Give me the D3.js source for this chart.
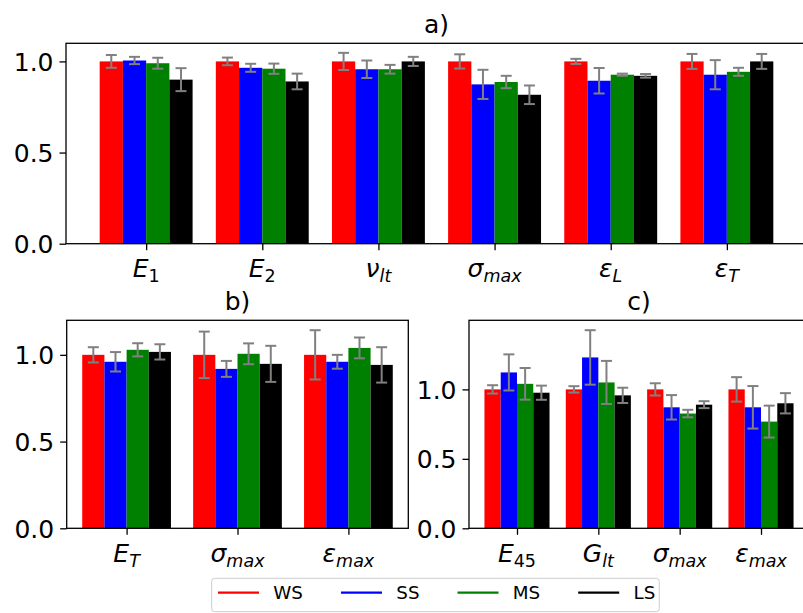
<!DOCTYPE html>
<html><head><meta charset="utf-8">
<script src="https://cdn.jsdelivr.net/npm/d3@7"></script>
<style>
html,body{margin:0;padding:0;background:#fff;overflow:hidden}
text{font-family:"DejaVu Sans",sans-serif;fill:#000}
</style></head>
<body>
<svg id="chart" width="803" height="613"></svg>
<script>
// ---------- data ----------
const series = ["WS", "SS", "MS", "LS"];

const categoriesA = ["E_1", "E_2", "ν_lt", "σ_max", "ε_L", "ε_T"];
const valuesA_WS = [1.0, 1.0, 1.0, 1.0, 1.0, 1.0];
const valuesA_SS = [1.005, 0.965, 0.957, 0.874, 0.894, 0.927];
const valuesA_MS = [0.99, 0.96, 0.957, 0.887, 0.927, 0.943];
const valuesA_LS = [0.90, 0.89, 1.0, 0.817, 0.921, 1.0];
const errorsA_WS = [0.035, 0.021, 0.047, 0.039, 0.014, 0.041];
const errorsA_SS = [0.02, 0.022, 0.048, 0.08, 0.07, 0.08];
const errorsA_MS = [0.03, 0.028, 0.024, 0.034, 0.006, 0.022];
const errorsA_LS = [0.063, 0.043, 0.025, 0.051, 0.01, 0.041];

const categoriesB = ["E_T", "σ_max", "ε_max"];
const valuesB_WS = [1.0, 1.0, 1.0];
const valuesB_SS = [0.96, 0.919, 0.96];
const valuesB_MS = [1.029, 1.006, 1.04];
const valuesB_LS = [1.017, 0.948, 0.942];
const errorsB_WS = [0.044, 0.134, 0.142];
const errorsB_SS = [0.056, 0.046, 0.04];
const errorsB_MS = [0.038, 0.06, 0.06];
const errorsB_LS = [0.044, 0.104, 0.102];

const categoriesC = ["E_45", "G_lt", "σ_max", "ε_max"];
const valuesC_WS = [1.0, 1.0, 1.0, 1.0];
const valuesC_SS = [1.122, 1.23, 0.871, 0.871];
const valuesC_MS = [1.04, 1.05, 0.826, 0.768];
const valuesC_LS = [0.976, 0.957, 0.89, 0.9];
const errorsC_WS = [0.03, 0.023, 0.044, 0.088];
const errorsC_SS = [0.13, 0.196, 0.088, 0.153];
const errorsC_MS = [0.114, 0.155, 0.027, 0.115];
const errorsC_LS = [0.051, 0.055, 0.025, 0.073];

const yTickValues = [0, 0.5, 1.0, 1.5];
const panelTitles = ["a)", "b)", "c)"];

// ---------- styles / layout ----------
const colors = {WS: "#ff0000", SS: "#0000ff", MS: "#008000", LS: "#000000"};
const errColor = "#808080";
const FS = 25;

const panels = [
  {title: panelTitles[0], cats: categoriesA,
   vals: [valuesA_WS, valuesA_SS, valuesA_MS, valuesA_LS],
   errs: [errorsA_WS, errorsA_SS, errorsA_MS, errorsA_LS],
   x0: 66, x1: 807, y0: 43.3, y1: 243.7},
  {title: panelTitles[1], cats: categoriesB,
   vals: [valuesB_WS, valuesB_SS, valuesB_MS, valuesB_LS],
   errs: [errorsB_WS, errorsB_SS, errorsB_MS, errorsB_LS],
   x0: 66.7, x1: 408.3, y0: 320.3, y1: 528.3},
  {title: panelTitles[2], cats: categoriesC,
   vals: [valuesC_WS, valuesC_SS, valuesC_MS, valuesC_LS],
   errs: [errorsC_WS, errorsC_SS, errorsC_MS, errorsC_LS],
   x0: 469, x1: 809, y0: 320.3, y1: 528.3}
];

const svg = d3.select("#chart");
const barW = 0.2;

function mathLabel(sel, label, size) {
  const parts = label.split("_");
  sel.append("tspan").attr("font-style", "italic").text(parts[0]);
  if (parts[1]) {
    const isDigit = /^[0-9]+$/.test(parts[1]);
    sel.append("tspan")
      .attr("font-size", size * 0.7)
      .attr("font-style", isDigit ? "normal" : "italic")
      .attr("dy", 5)
      .text(parts[1]);
  }
}

panels.forEach(p => {
  const n = p.cats.length;
  const lo = -0.4, hi = n - 1 + 0.4, span = hi - lo;
  const x = d3.scaleLinear().domain([lo - 0.05 * span, hi + 0.05 * span]).range([p.x0, p.x1]);
  let ymax = 0;
  series.forEach((s, i) => p.vals[i].forEach((v, k) => { ymax = Math.max(ymax, v + p.errs[i][k]); }));
  const y = d3.scaleLinear().domain([0, ymax * 1.05]).range([p.y1, p.y0]);

  const g = svg.append("g");
  // bars
  series.forEach((s, i) => {
    const off = (i - 1.5) * barW;
    g.selectAll(null).data(p.vals[i]).enter().append("rect")
      .attr("x", (d, k) => x(k + off - barW / 2))
      .attr("width", (d, k) => x(k + off + barW / 2) - x(k + off - barW / 2))
      .attr("y", d => y(d))
      .attr("height", d => y(0) - y(d))
      .attr("fill", colors[s]);
  });
  // error bars
  series.forEach((s, i) => {
    const off = (i - 1.5) * barW;
    const data = p.vals[i].map((v, k) => ({k, v, e: p.errs[i][k]}));
    const eg = g.selectAll(null).data(data).enter().append("g")
      .attr("stroke", errColor).attr("stroke-width", 2).attr("fill", "none");
    eg.append("line")
      .attr("x1", d => x(d.k + off)).attr("x2", d => x(d.k + off))
      .attr("y1", d => y(d.v - d.e)).attr("y2", d => y(d.v + d.e));
    eg.append("line")
      .attr("x1", d => x(d.k + off) - 5.5).attr("x2", d => x(d.k + off) + 5.5)
      .attr("y1", d => y(d.v - d.e)).attr("y2", d => y(d.v - d.e));
    eg.append("line")
      .attr("x1", d => x(d.k + off) - 5.5).attr("x2", d => x(d.k + off) + 5.5)
      .attr("y1", d => y(d.v + d.e)).attr("y2", d => y(d.v + d.e));
  });

  // y axis ticks
  const yt = yTickValues.filter(t => t <= y.domain()[1]);
  const yAxis = d3.axisLeft(y).tickValues(yt).tickFormat(d3.format(".1f"))
    .tickSizeInner(6.5).tickSizeOuter(0).tickPadding(6);
  const ya = svg.append("g").attr("transform", `translate(${p.x0},0)`).call(yAxis);
  ya.select(".domain").remove();
  ya.selectAll("line").attr("stroke", "#000").attr("stroke-width", 1.3);
  ya.selectAll("text").attr("font-size", FS).attr("font-family", "DejaVu Sans").attr("dy", "0.36em");

  // x axis ticks
  const xAxis = d3.axisBottom(x).tickValues(d3.range(n)).tickFormat("")
    .tickSizeInner(6.5).tickSizeOuter(0);
  const xa = svg.append("g").attr("transform", `translate(0,${p.y1})`).call(xAxis);
  xa.select(".domain").remove();
  xa.selectAll("line").attr("stroke", "#000").attr("stroke-width", 1.3);
  p.cats.forEach((c, k) => {
    const t = svg.append("text")
      .attr("x", x(k)).attr("y", p.y1 + 33.5)
      .attr("text-anchor", "middle").attr("font-size", FS);
    mathLabel(t, c, FS);
  });

  // spines
  svg.append("rect")
    .attr("x", p.x0).attr("y", p.y0)
    .attr("width", p.x1 - p.x0).attr("height", p.y1 - p.y0)
    .attr("fill", "none").attr("stroke", "#000").attr("stroke-width", 1.3);

  // title
  svg.append("text")
    .attr("x", (p.x0 + p.x1) / 2).attr("y", p.y0 - 10.5)
    .attr("text-anchor", "middle").attr("font-size", FS)
    .text(p.title);
});

// ---------- legend ----------
const lg = svg.append("g");
const legBox = lg.append("rect")
  .attr("x", 211.7).attr("y", 578.3).attr("height", 33.4)
  .attr("rx", 3).attr("ry", 3)
  .attr("fill", "#fff").attr("stroke", "#cccccc").attr("stroke-width", 1);
let cx = 218;
const ly = 592.7;
series.forEach((s, i) => {
  lg.append("line").attr("x1", cx).attr("x2", cx + 41)
    .attr("y1", ly).attr("y2", ly)
    .attr("stroke", colors[s]).attr("stroke-width", 2.2);
  const t = lg.append("text").attr("x", cx + 55.3).attr("y", 599.3)
    .attr("font-size", 18.3).text(s);
  const w = t.node().getComputedTextLength();
  if (i < series.length - 1) cx = cx + 55.3 + w + 38;
  else cx = cx + 55.3 + w;
});
legBox.attr("width", cx + 4 - 211.7);
</script>
</body></html>
